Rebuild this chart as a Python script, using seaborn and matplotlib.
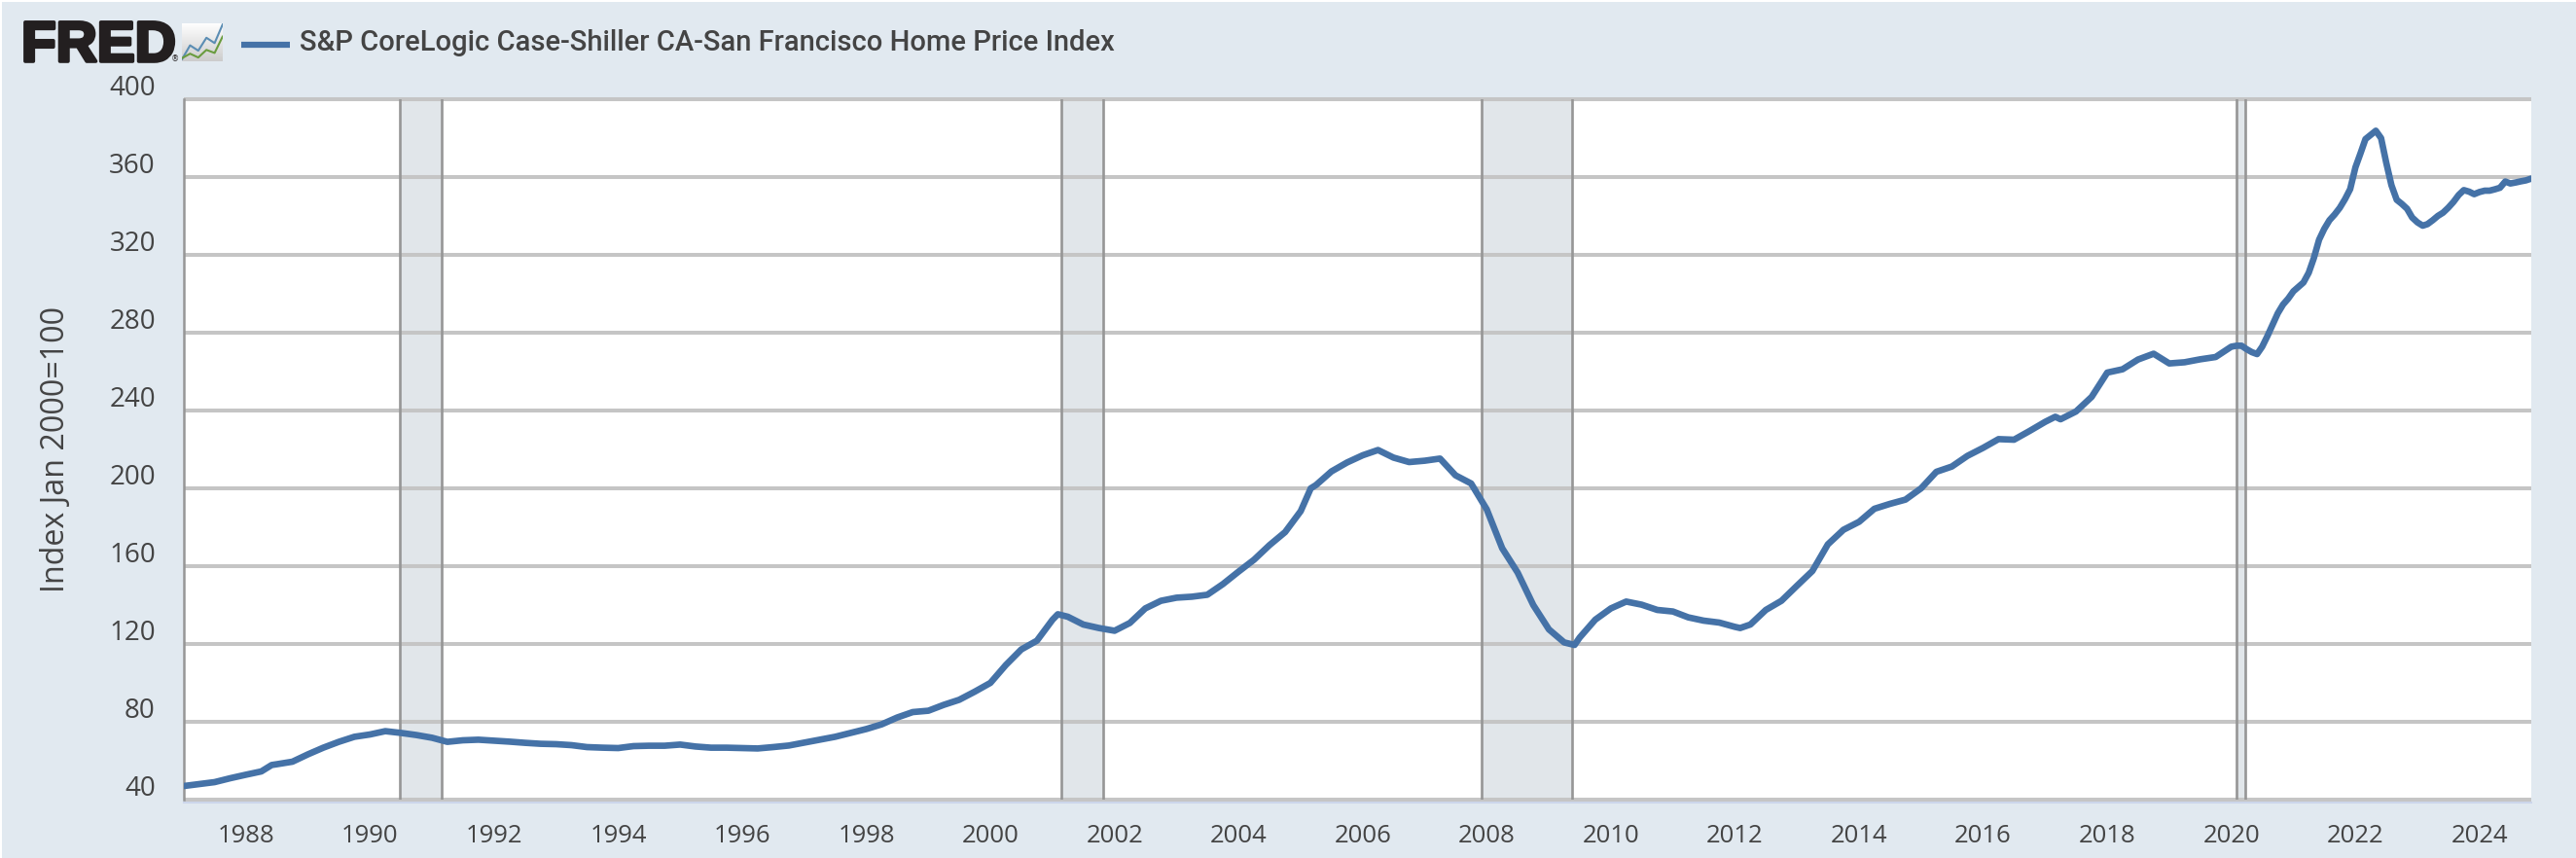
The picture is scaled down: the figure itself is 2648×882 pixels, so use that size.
import numpy as np
import pandas as pd
import matplotlib
matplotlib.use("Agg")
import matplotlib.pyplot as plt
import matplotlib.dates as mdates
import matplotlib.patheffects as pe
from matplotlib.patches import Rectangle
from matplotlib.transforms import ScaledTranslation
import seaborn as sns

W, H = 2648, 882
LEFT, RIGHT, TOP, BOTTOM = 189, 2602, 102, 822

series_name = "S&P CoreLogic Case-Shiller CA-San Francisco Home Price Index"
y_label = "Index Jan 2000=100"
y_ticks = [40, 80, 120, 160, 200, 240, 280, 320, 360, 400]
x_tick_years = list(range(1988, 2025, 2))

# quarterly readings, 1987Q1 to 2019Q4
quarterly_values = [
    47.0, 48.0, 49.0, 51.0,
    52.8, 54.5, 58.2, 59.5,
    63.3, 66.7, 69.7, 72.3,
    73.5, 75.2, 74.3, 73.2,
    71.8, 69.7, 70.5, 70.8,
    70.3, 69.8, 69.2, 68.7,
    68.5, 68.0, 67.0, 66.7,
    66.5, 67.5, 67.7, 67.7,
    68.3, 67.3, 66.7, 66.7,
    66.5, 66.3, 67.0, 67.8,
    69.3, 70.8, 72.3, 74.3,
    76.3, 78.7, 82.2, 85.0,
    85.7, 88.7, 91.3, 95.5,
    100.0, 109.2, 117.2, 121.7,
    132.5, 134.0, 130.0, 128.2,
    126.8, 130.8, 138.3, 142.2,
    143.8, 144.3, 145.3, 150.8,
    157.2, 163.3, 170.8, 177.5,
    188.3, 201.7, 208.7, 213.3,
    217.0, 219.7, 215.8, 213.5,
    214.2, 215.3, 206.7, 202.5,
    189.2, 169.2, 156.7, 140.0,
    127.5, 120.8, 123.3, 132.5,
    138.3, 141.8, 140.2, 137.5,
    136.7, 133.7, 132.0, 131.0,
    128.8, 130.0, 137.5, 142.2,
    150.0, 157.5, 171.2, 178.7,
    182.8, 189.5, 192.0, 194.2,
    200.0, 208.5, 211.2, 216.7,
    220.8, 225.3, 225.0, 229.5,
    234.2, 235.5, 239.5, 247.0,
    259.5, 261.2, 266.2, 269.2,
    264.2, 264.8, 266.3, 267.5,
]

# monthly readings, 2020-01 to 2024-11
monthly_values = [
    272.8, 273.3, 273.3, 271.5, 270.0, 269.0, 272.8, 278.3, 284.2, 290.0, 294.5, 297.5,
    301.3, 303.7, 305.8, 310.8, 318.3, 327.8, 333.3, 337.8, 340.8, 344.2, 348.7, 353.8,
    365.0, 372.5, 379.5, 381.7, 383.8, 380.0, 367.5, 355.8, 348.3, 346.2, 343.7, 339.2,
    336.7, 335.0, 335.8, 337.8, 340.0, 341.7, 344.2, 347.2, 350.8, 353.3, 352.5, 351.2,
    352.3, 353.0, 353.0, 353.7, 354.5, 357.7, 356.7, 357.2, 357.8, 358.3, 359.2,
]

# turning points that fall between the quarters
extra_dates = ["1988-06-01", "2001-02-01", "2005-03-01", "2009-06-01", "2012-02-01", "2017-03-01"]
extra_values = [57.8, 135.3, 200.0, 119.5, 128.2, 236.8]

recession_starts = ["1990-06-25", "2001-02-22", "2007-12-01", "2020-02-01"]
recession_ends = ["1991-03-01", "2001-10-25", "2009-05-15", "2020-03-25"]

icon_blue = [0.05, 0.42, 0.28, 0.62, 0.48, 0.98]
icon_green = [0.08, 0.2, 0.1, 0.3, 0.22, 0.66]

BG = "#e1e9f0"
GRID = "#c5c5c5"
EDGE = "#969696"
SHADE = "#e1e6ea"
LINE = "#4572a7"
TEXT = "#444444"

df = pd.concat([
    pd.DataFrame({"date": pd.date_range("1987-01-01", periods=len(quarterly_values), freq="QS"),
                  "value": quarterly_values}),
    pd.DataFrame({"date": pd.to_datetime(extra_dates), "value": extra_values}),
    pd.DataFrame({"date": pd.date_range("2020-01-01", periods=len(monthly_values), freq="MS"),
                  "value": monthly_values}),
])

sns.set_theme(style="white")
plt.rcParams["font.family"] = ["Open Sans", "DejaVu Sans"]

fig = plt.figure(figsize=(W / 100, H / 100), dpi=100, facecolor="white")
fig.add_artist(Rectangle((2 / W, 0), 1, 1 - 2 / H, transform=fig.transFigure, facecolor=BG, edgecolor="none", zorder=-5))
ax = fig.add_axes([LEFT / W, 1 - BOTTOM / H, (RIGHT - LEFT) / W, (BOTTOM - TOP) / H], facecolor="white")

sns.lineplot(data=df, x="date", y="value", ax=ax, color=LINE, linewidth=4.8, estimator=None, zorder=3)
ax.get_lines()[0].set_solid_joinstyle("round")

for start, end in zip(recession_starts, recession_ends):
    start, end = pd.Timestamp(start), pd.Timestamp(end)
    ax.axvspan(start, end, facecolor=SHADE, edgecolor="none", zorder=0.2)
    ax.axvline(start, color=EDGE, lw=1.9, zorder=0.6)
    ax.axvline(end, color=EDGE, lw=1.9, zorder=0.6)

ax.set_xlim(pd.Timestamp("1987-01-01"), pd.Timestamp("2024-11-01"))
ax.set_ylim(40, 400)
ax.set_yticks(y_ticks)
ax.set_xticks([pd.Timestamp(f"{y}-01-01") for y in x_tick_years])
ax.xaxis.set_major_formatter(mdates.DateFormatter("%Y"))

ax.set_axisbelow(True)
ax.grid(axis="y", color=GRID, lw=2.9)
for gl in ax.get_ygridlines():
    gl.set_clip_on(False)
    gl.set_solid_capstyle("butt")

for side in ["top", "right"]:
    ax.spines[side].set_visible(False)
ax.spines["left"].set_color(EDGE)
ax.spines["left"].set_linewidth(1.8)
ax.spines["bottom"].set_color("#ccd6eb")
ax.spines["bottom"].set_linewidth(1.5)
ax.spines["bottom"].set_position(("outward", 2))

ax.tick_params(axis="x", length=11, width=1.4, color="#ccd6eb", labelsize=18.5, labelcolor=TEXT, pad=5)
ax.tick_params(axis="y", length=0, labelsize=20, labelcolor=TEXT, pad=21)
for lab in ax.get_yticklabels():
    lab.set_va("bottom")
    lab.set_transform(lab.get_transform() + ScaledTranslation(0, -3 / 100, fig.dpi_scale_trans))

ax.set_xlabel("")
ax.set_ylabel("")
fig.text(58 / W, 1 - 462 / H, y_label, rotation=90, ha="center", va="center", fontsize=23.2, color=TEXT)

# legend row
fig.add_artist(plt.Line2D([248 / W, 298 / W], [1 - 46 / H, 1 - 46 / H], transform=fig.transFigure,
                          color=LINE, lw=4.5, solid_capstyle="butt"))
fig.text(308 / W, 1 - 44 / H, series_name, ha="left", va="center", fontsize=20.95, color=TEXT,
         family=["Roboto"], fontweight="medium")

# logo
fig.text(22 / W, 1 - 63 / H, "FRED", ha="left", va="baseline", fontsize=42, fontweight="bold", color="#231f20",
         family=["Liberation Sans"], path_effects=[pe.withStroke(linewidth=2.6, foreground="#231f20")])
fig.text(176 / W, 1 - 63 / H, "®", ha="left", va="baseline", fontsize=6, color="#231f20", family=["DejaVu Sans"])
icon = fig.add_axes([187 / W, 1 - 63 / H, 42 / W, 39 / H])
icon.imshow(np.linspace(1, 0.8, 64).reshape(-1, 1), cmap="gray", vmin=0, vmax=1, aspect="auto", extent=[0, 1, 0, 1])
icon_x = np.linspace(0, 1, len(icon_blue))
icon.plot(icon_x, icon_blue, color="#5b8db3", lw=1.5)
icon.plot(icon_x, icon_green, color="#6a9c3f", lw=1.5)
icon.set_xlim(0, 1)
icon.set_ylim(0, 1)
icon.axis("off")

fig.savefig("out.png", dpi=100, facecolor=fig.get_facecolor())
